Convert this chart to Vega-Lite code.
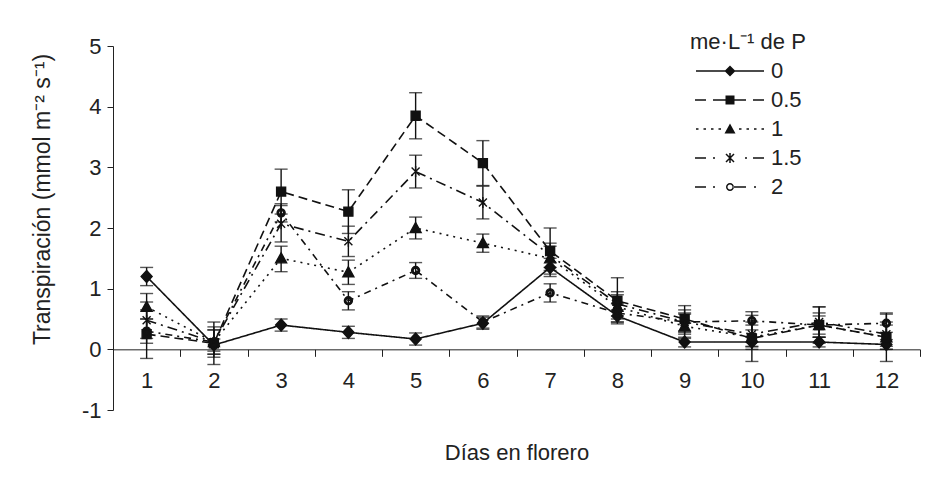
{
  "$schema": "https://vega.github.io/schema/vega-lite/v6.json",
  "width": 807,
  "height": 364,
  "autosize": "none",
  "padding": {"left": 113, "top": 46, "right": 27, "bottom": 72},
  "background": "white",
  "config": {"font": "Liberation Sans", "view": {"stroke": null}},
  "data": {
    "values": [
      {"P": "0", "day": 1, "v": 1.2, "lo": 1.05, "hi": 1.35},
      {"P": "0", "day": 2, "v": 0.07, "lo": -0.03, "hi": 0.17},
      {"P": "0", "day": 3, "v": 0.4, "lo": 0.3, "hi": 0.5},
      {"P": "0", "day": 4, "v": 0.28, "lo": 0.18, "hi": 0.38},
      {"P": "0", "day": 5, "v": 0.17, "lo": 0.07, "hi": 0.27},
      {"P": "0", "day": 6, "v": 0.43, "lo": 0.33, "hi": 0.53},
      {"P": "0", "day": 7, "v": 1.35, "lo": 1.2, "hi": 1.5},
      {"P": "0", "day": 8, "v": 0.55, "lo": 0.45, "hi": 0.65},
      {"P": "0", "day": 9, "v": 0.12, "lo": 0.04, "hi": 0.2},
      {"P": "0", "day": 10, "v": 0.12, "lo": 0.04, "hi": 0.2},
      {"P": "0", "day": 11, "v": 0.12, "lo": 0.04, "hi": 0.2},
      {"P": "0", "day": 12, "v": 0.08, "lo": 0.0, "hi": 0.16},
      {"P": "0.5", "day": 1, "v": 0.25, "lo": -0.15, "hi": 0.65},
      {"P": "0.5", "day": 2, "v": 0.1, "lo": -0.25, "hi": 0.45},
      {"P": "0.5", "day": 3, "v": 2.6, "lo": 2.23, "hi": 2.97},
      {"P": "0.5", "day": 4, "v": 2.27, "lo": 1.91, "hi": 2.63},
      {"P": "0.5", "day": 5, "v": 3.85, "lo": 3.47, "hi": 4.23},
      {"P": "0.5", "day": 6, "v": 3.07, "lo": 2.7, "hi": 3.44},
      {"P": "0.5", "day": 7, "v": 1.62, "lo": 1.24, "hi": 2.0},
      {"P": "0.5", "day": 8, "v": 0.8, "lo": 0.42, "hi": 1.18},
      {"P": "0.5", "day": 9, "v": 0.5, "lo": 0.28, "hi": 0.72},
      {"P": "0.5", "day": 10, "v": 0.18, "lo": -0.2, "hi": 0.56},
      {"P": "0.5", "day": 11, "v": 0.4, "lo": 0.1, "hi": 0.7},
      {"P": "0.5", "day": 12, "v": 0.2, "lo": -0.2, "hi": 0.6},
      {"P": "1", "day": 1, "v": 0.7, "lo": 0.5, "hi": 0.92},
      {"P": "1", "day": 2, "v": 0.12, "lo": -0.08, "hi": 0.32},
      {"P": "1", "day": 3, "v": 1.5, "lo": 1.28, "hi": 1.7},
      {"P": "1", "day": 4, "v": 1.27, "lo": 1.07, "hi": 1.47},
      {"P": "1", "day": 5, "v": 2.0, "lo": 1.82, "hi": 2.18},
      {"P": "1", "day": 6, "v": 1.75, "lo": 1.6, "hi": 1.9},
      {"P": "1", "day": 7, "v": 1.5, "lo": 1.3, "hi": 1.7},
      {"P": "1", "day": 8, "v": 0.7, "lo": 0.5, "hi": 0.9},
      {"P": "1", "day": 9, "v": 0.38, "lo": 0.18, "hi": 0.58},
      {"P": "1", "day": 10, "v": 0.2, "lo": 0.0, "hi": 0.4},
      {"P": "1", "day": 11, "v": 0.4, "lo": 0.2, "hi": 0.6},
      {"P": "1", "day": 12, "v": 0.2, "lo": 0.0, "hi": 0.4},
      {"P": "1.5", "day": 1, "v": 0.48, "lo": 0.18, "hi": 0.78},
      {"P": "1.5", "day": 2, "v": 0.12, "lo": -0.13, "hi": 0.37},
      {"P": "1.5", "day": 3, "v": 2.07, "lo": 1.77, "hi": 2.37},
      {"P": "1.5", "day": 4, "v": 1.78, "lo": 1.53, "hi": 2.03},
      {"P": "1.5", "day": 5, "v": 2.93, "lo": 2.66, "hi": 3.2},
      {"P": "1.5", "day": 6, "v": 2.42, "lo": 2.15, "hi": 2.69},
      {"P": "1.5", "day": 7, "v": 1.55, "lo": 1.35, "hi": 1.75},
      {"P": "1.5", "day": 8, "v": 0.75, "lo": 0.55, "hi": 0.95},
      {"P": "1.5", "day": 9, "v": 0.45, "lo": 0.25, "hi": 0.65},
      {"P": "1.5", "day": 10, "v": 0.25, "lo": 0.05, "hi": 0.45},
      {"P": "1.5", "day": 11, "v": 0.45, "lo": 0.2, "hi": 0.7},
      {"P": "1.5", "day": 12, "v": 0.25, "lo": 0.05, "hi": 0.45},
      {"P": "2", "day": 1, "v": 0.3, "lo": 0.1, "hi": 0.5},
      {"P": "2", "day": 2, "v": 0.12, "lo": -0.08, "hi": 0.32},
      {"P": "2", "day": 3, "v": 2.25, "lo": 2.1, "hi": 2.4},
      {"P": "2", "day": 4, "v": 0.8, "lo": 0.65, "hi": 0.95},
      {"P": "2", "day": 5, "v": 1.3, "lo": 1.17, "hi": 1.43},
      {"P": "2", "day": 6, "v": 0.45, "lo": 0.35, "hi": 0.55},
      {"P": "2", "day": 7, "v": 0.93, "lo": 0.78, "hi": 1.08},
      {"P": "2", "day": 8, "v": 0.6, "lo": 0.45, "hi": 0.75},
      {"P": "2", "day": 9, "v": 0.45, "lo": 0.3, "hi": 0.6},
      {"P": "2", "day": 10, "v": 0.47, "lo": 0.32, "hi": 0.62},
      {"P": "2", "day": 11, "v": 0.4, "lo": 0.25, "hi": 0.55},
      {"P": "2", "day": 12, "v": 0.43, "lo": 0.28, "hi": 0.58}
    ]
  },
  "encoding": {
    "x": {
      "field": "day",
      "type": "quantitative",
      "scale": {"domain": [0.5, 12.5], "nice": false, "zero": false},
      "axis": {
        "values": [1, 2, 3, 4, 5, 6, 7, 8, 9, 10, 11, 12],
        "tickOffset": 33.625,
        "labelOffset": -33.625,
        "offset": -60.667,
        "title": "Días en florero",
        "titleFontSize": 22,
        "titleFontWeight": "normal",
        "titleColor": "#222",
        "titleY": 103,
        "titleBaseline": "middle",
        "labelFontSize": 22,
        "labelColor": "#222",
        "labelPadding": 14,
        "labelFlush": false,
        "labelOverlap": false,
        "tickSize": 7,
        "tickColor": "#222",
        "domainColor": "#222",
        "grid": false
      }
    },
    "y": {
      "field": "v",
      "type": "quantitative",
      "scale": {"domain": [-1, 5], "nice": false, "zero": false},
      "axis": {
        "values": [-1, 0, 1, 2, 3, 4, 5],
        "labelExpr": "datum.value + ''",
        "title": "Transpiración (mmol m⁻² s⁻¹)",
        "titleFontSize": 23,
        "titleFontWeight": "normal",
        "titleColor": "#222",
        "titleX": -71,
        "titleY": 153,
        "titleBaseline": "middle",
        "titleAlign": "center",
        "labelFontSize": 22,
        "labelColor": "#222",
        "labelPadding": 6,
        "tickSize": 6,
        "tickColor": "#222",
        "domainColor": "#222",
        "grid": false
      }
    }
  },
  "layer": [
    {
      "mark": {"type": "errorbar", "ticks": {"size": 13}, "thickness": 1.4, "color": "#111"},
      "encoding": {
        "y": {
          "field": "lo",
          "type": "quantitative",
          "title": "Transpiración (mmol m⁻² s⁻¹)"
        },
        "y2": {"field": "hi"}
      }
    },
    {
      "mark": {"type": "line", "color": "#111", "strokeWidth": 1.6},
      "encoding": {
        "strokeDash": {
          "field": "P",
          "type": "nominal",
          "scale": {
            "domain": ["0", "0.5", "1", "1.5", "2"],
            "range": [[1, 0], [9, 5], [2, 5], [10, 5, 2, 5], [7, 5, 2, 5]]
          },
          "legend": null
        },
        "detail": {"field": "P"}
      }
    },
    {
      "mark": {"type": "point", "filled": true, "size": 100, "opacity": 1, "color": "#111", "stroke": "#111", "strokeWidth": 1.4},
      "encoding": {
        "shape": {
          "field": "P",
          "type": "nominal",
          "scale": {
            "domain": ["0", "0.5", "1", "1.5", "2"],
            "range": [
              "M0,-1.2L1.1,0L0,1.2L-1.1,0Z",
              "M-0.9,-0.9H0.9V0.9H-0.9Z",
              "M0,-1.1L1.1,0.9L-1.1,0.9Z",
              "M-0.8,-0.8L0.8,0.8M-0.8,0.8L0.8,-0.8M0,-1.1V1.1",
              "M-0.8,0A0.8,0.8 0 1,0 0.8,0A0.8,0.8 0 1,0 -0.8,0Z M-0.5,0A0.5,0.5 0 1,1 0.5,0A0.5,0.5 0 1,1 -0.5,0Z"
            ]
          },
          "legend": null
        }
      }
    },
    {
      "mark": {"type": "point", "filled": true, "size": 100, "opacity": 0, "color": "#111"},
      "encoding": {
        "shape": {
          "field": "P",
          "type": "nominal",
          "scale": {
            "domain": ["0", "0.5", "1", "1.5", "2"],
            "range": [
              "M-1,-0.15H4.9V0.15H-1ZM6.7,-0.15H12.6V0.15H6.7ZM5.8,-1.1L6.9,0L5.8,1.1L4.7,0Z",
              "M-1.2,-0.15H1V0.15H-1.2ZM2.4,-0.15H5V0.15H2.4ZM6.6,-0.15H9V0.15H6.6ZM10.4,-0.15H12.6V0.15H10.4ZM4.9,-0.9H6.7V0.9H4.9Z",
              "M-1,-0.15H-0.5V0.15H-1ZM0.5,-0.15H1V0.15H0.5ZM2,-0.15H2.5V0.15H2ZM3.5,-0.15H4V0.15H3.5ZM7.6,-0.15H8.1V0.15H7.6ZM9.1,-0.15H9.6V0.15H9.1ZM10.6,-0.15H11.1V0.15H10.6ZM12.1,-0.15H12.6V0.15H12.1ZM5.8,-1.1L6.9,0.9L4.7,0.9Z",
              "M-1.2,-0.15H1V0.15H-1.2ZM2.4,-0.15H2.8V0.15H2.4ZM8.8,-0.15H9.2V0.15H8.8ZM10.4,-0.15H12.6V0.15H10.4ZM4.894,-0.694L5.106,-0.906L6.706,0.694L6.494,0.906ZM4.894,0.694L6.494,-0.906L6.706,-0.694L5.106,0.906ZM5.65,-1H5.95V1H5.65Z",
              "M-1.2,-0.15H1V0.15H-1.2ZM2.4,-0.15H2.8V0.15H2.4ZM6.5,-0.15H9V0.15H6.5ZM10.6,-0.15H11V0.15H10.6ZM5,0A0.8,0.8 0 1,0 6.6,0A0.8,0.8 0 1,0 5,0Z M5.3,0A0.5,0.5 0 1,1 6.3,0A0.5,0.5 0 1,1 5.3,0Z"
            ]
          },
          "legend": {
            "title": "me·L⁻¹ de P",
            "orient": "none",
            "legendX": 577,
            "legendY": -14,
            "padding": 0,
            "titleFontSize": 22,
            "titleFontWeight": "normal",
            "titleColor": "#222",
            "titlePadding": 6,
            "labelFontSize": 22,
            "labelColor": "#222",
            "labelOffset": 59,
            "symbolSize": 100,
            "symbolOpacity": 1,
            "rowPadding": 7,
            "encode": {
              "symbols": {
                "update": {
                  "opacity": {"value": 1},
                  "fill": {"value": "#111"},
                  "fillOpacity": {"value": 1}
                }
              }
            }
          }
        }
      }
    }
  ],
  "resolve": {"scale": {"shape": "independent"}}
}
